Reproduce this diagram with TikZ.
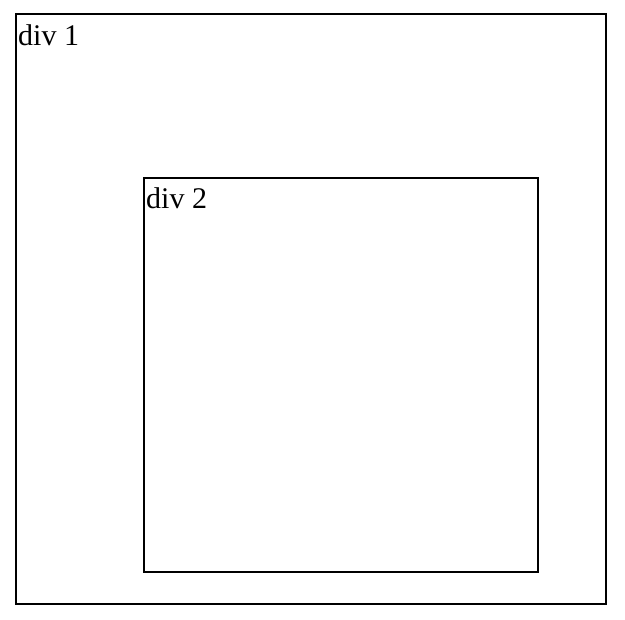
\documentclass[tikz,border=0pt]{standalone}
\usepackage{fontspec}
\setmainfont{Liberation Serif}
\usepackage{tikz}
\usetikzlibrary{positioning,calc}

\tikzset{
  divbox/.style={draw, line width=1.6pt, inner sep=0pt, outer sep=0pt},
  divlabel/.style={inner sep=0pt, anchor=base west, font=\fontsize{30}{36}\selectfont}
}

\begin{document}
\begin{tikzpicture}[x=1pt,y=-1pt]
    \useasboundingbox (0,0) rectangle (625,620);

    % outer div
    \node[divbox, minimum width=590pt, minimum height=590pt, anchor=north west] (div1) at (16,14) {};
    \node[divlabel] (label1) at ($(div1.north west)+(2,32)$) {div 1};

    % inner div
    \node[divbox, minimum width=394pt, minimum height=394pt, anchor=north west] (div2) at (144,178) {};
    \node[divlabel] (label2) at ($(div2.north west)+(2,31)$) {div 2};
\end{tikzpicture}
\end{document}
